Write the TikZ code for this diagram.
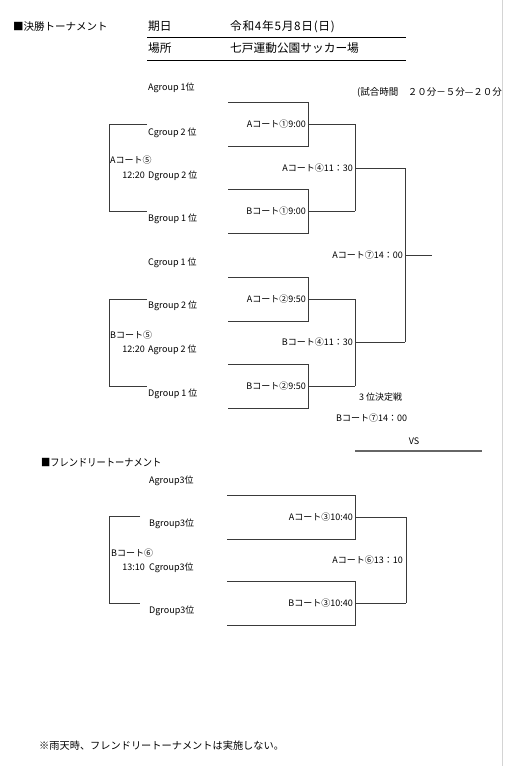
\documentclass[tikz,border=0pt]{standalone}
\usepackage{fontspec}
\setmainfont{Noto Sans CJK JP}
\usetikzlibrary{calc}
\definecolor{linec}{HTML}{3A3A3A}
\definecolor{edgec}{HTML}{D4D4D4}
\begin{document}
\begin{tikzpicture}[x=1pt,y=-1pt,
  lbl/.style={font=\fontsize{9}{10}\selectfont, inner sep=0pt, text height=0.8em, text depth=0.12em},
  head/.style={font=\fontsize{11.7}{14}\selectfont, inner sep=0pt, text height=0.8em, text depth=0.12em},
  sect/.style={font=\fontsize{10.5}{12}\selectfont, inner sep=0pt, text height=0.8em, text depth=0.12em},
  br/.style={draw=linec, line width=0.9pt},
  rule/.style={draw=black, line width=0.9pt},
]
\useasboundingbox (0,0) rectangle (511,776);
% page edge
\coordinate (edgeT) at (502,0);
\coordinate (edgeB) at (502,766);
\draw[edgec, line width=1pt] (edgeT) -- (edgeB);

% header
\node[sect, anchor=west] (h1) at (13,27) {■決勝トーナメント};
\node[head, anchor=west] (d1) at (148,27) {期日};
\node[head, anchor=west] (d2) at (230,27) {\addfontfeature{LetterSpace=6}令和4年5月8日(日)};
\node[head, anchor=west] (p1) at (148,49) {場所};
\node[head, anchor=west] (p2) at (230,49) {七戸運動公園サッカー場};
\coordinate (r1a) at (147,37.5); \coordinate (r1b) at (406,37.5);
\coordinate (r2a) at (147,60); \coordinate (r2b) at (406,60);
\draw[rule] (r1a) -- (r1b);
\draw[rule] (r2a) -- (r2b);
\node[lbl, font=\fontsize{9.5}{11}\selectfont, anchor=west] (note) at (357,92) {(試合時間　２０分－５分—２０分};

% main tournament: team labels
\node[lbl, anchor=west] (gA1) at (148,87) {Agroup 1位};
\node[lbl, anchor=west] (gC2) at (148,132) {Cgroup 2 位};
\node[lbl, anchor=west] (cA5) at (110,160) {Aコート⑤};
\node[lbl, anchor=east] (t1) at (145,175) {12:20};
\node[lbl, anchor=west] (gD2) at (148,175) {Dgroup 2 位};
\node[lbl, anchor=west] (gB1) at (148,218) {Bgroup 1 位};
\node[lbl, anchor=west] (gC1) at (148,262) {Cgroup 1 位};
\node[lbl, anchor=west] (gB2) at (148,305) {Bgroup 2 位};
\node[lbl, anchor=west] (cB5) at (110,335) {Bコート⑤};
\node[lbl, anchor=east] (t2) at (145,349) {12:20};
\node[lbl, anchor=west] (gA2) at (148,349) {Agroup 2 位};
\node[lbl, anchor=west] (gD1) at (148,393) {Dgroup 1 位};

% junctions
\coordinate (A1) at (308,124);
\coordinate (B1) at (308,211);
\coordinate (A4) at (355,168);
\coordinate (A2) at (308,299);
\coordinate (B2) at (308,386);
\coordinate (B4) at (355,342);
\coordinate (F) at (405,255);
\coordinate (Fend) at (432,255);

\node[lbl, anchor=east] (lA1) at ($(A1)+(-2,0)$) {Aコート①9:00};
\node[lbl, anchor=east] (lB1) at ($(B1)+(-2,0)$) {Bコート①9:00};
\node[lbl, anchor=east] (lA4) at ($(A4)+(-2,0)$) {Aコート④11：30};
\node[lbl, anchor=east] (lA2) at ($(A2)+(-2,0)$) {Aコート②9:50};
\node[lbl, anchor=east] (lB2) at ($(B2)+(-2,0)$) {Bコート②9:50};
\node[lbl, anchor=east] (lB4) at ($(B4)+(-2,0)$) {Bコート④11：30};
\node[lbl, anchor=east] (lF) at ($(F)+(-2,0)$) {Aコート⑦14：00};

% first round brackets
\foreach \j in {A1,B1,A2,B2}{
  \draw[br] (\j) ++(-80,-22) -- ++(80,0) -- ++(0,44) -- ++(-80,0);
}
\draw[br] (A1) -- (A1 -| A4) -- (B1 -| A4);
\draw[br] (B1) -- (B1 -| A4);
\draw[br] (A2) -- (A2 -| B4) -- (B2 -| B4);
\draw[br] (B2) -- (B2 -| B4);
\draw[br] (A4) -- (A4 -| F) -- (B4 -| F);
\draw[br] (B4) -- (B4 -| F);
\draw[br] (F) -- (Fend);

% left brackets (5th matches)
\coordinate (L5At) at (147,124); \coordinate (L5Ab) at (147,211);
\coordinate (L5Bt) at (147,299); \coordinate (L5Bb) at (147,386);
\draw[br] (L5At) -- ++(-38,0) |- (L5Ab);
\draw[br] (L5Bt) -- ++(-38,0) |- (L5Bb);

% third place
\node[lbl, anchor=west] (third) at (359,397) {3 位決定戦};
\node[lbl, anchor=west] (lB7) at (336,418) {Bコート⑦14：00};
\node[lbl, anchor=center] (vs) at (414,441) {VS};
\coordinate (vsa) at (355,451); \coordinate (vsb) at (482,451);
\draw[draw=black!60, line width=1.8pt] (vsa) -- (vsb);

% friendly tournament
\node[sect, anchor=west] (h2) at (41,463) {\addfontfeature{FakeStretch=0.88}■フレンドリートーナメント};
\node[lbl, anchor=west] (fA3) at (149,480) {Agroup3位};
\node[lbl, anchor=west] (fB3) at (149,523) {Bgroup3位};
\node[lbl, anchor=west] (cB6) at (111,553) {Bコート⑥};
\node[lbl, anchor=east] (t3) at (145,567) {13:10};
\node[lbl, anchor=west] (fC3) at (149,567) {Cgroup3位};
\node[lbl, anchor=west] (fD3) at (149,610) {Dgroup3位};

\coordinate (A3) at (355,517);
\coordinate (B3) at (355,603);
\coordinate (A6) at (406,560);
\node[lbl, anchor=east] (lA3) at ($(A3)+(-2,0)$) {Aコート③10:40};
\node[lbl, anchor=east] (lB3) at ($(B3)+(-2,0)$) {Bコート③10:40};
\node[lbl, anchor=east] (lA6) at ($(A6)+(-3,0)$) {Aコート⑥13：10};
\foreach \j in {A3,B3}{
  \draw[br] (\j) ++(-128,-22) -- ++(128,0) -- ++(0,44) -- ++(-128,0);
}
\draw[br] (A3) -- (A3 -| A6) -- (B3 -| A6);
\draw[br] (B3) -- (B3 -| A6);

\coordinate (L6t) at (140,516); \coordinate (L6b) at (140,603);
\draw[br] (L6t) -- ++(-31,0) |- (L6b);

% footnote
\node[lbl, font=\fontsize{10.2}{12}\selectfont, anchor=west] (foot) at (39,746) {※雨天時、フレンドリートーナメントは実施しない。};
\end{tikzpicture}
\end{document}
